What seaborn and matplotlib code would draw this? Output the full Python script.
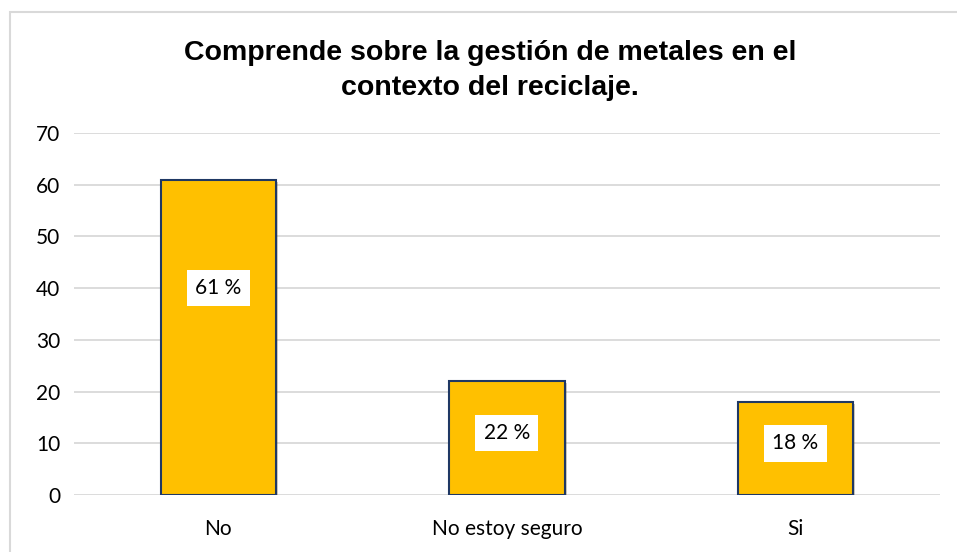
import pandas as pd
import seaborn as sns
import matplotlib.pyplot as plt
from matplotlib.patches import Rectangle
import matplotlib.patheffects as pe

# Data
categories = ['No', 'No estoy seguro', 'Si']
values = [61, 22, 18]
labels = ['61 %', '22 %', '18 %']
label_y = [40, 12, 10]   # where the labels sit on each bar

df = pd.DataFrame({'respuesta': categories, 'valor': values})

sns.set_theme(style='white')
plt.rcParams['font.family'] = ['Lato', 'DejaVu Sans']
plt.rcParams['text.color'] = 'black'

fig = plt.figure(figsize=(9.57, 5.52), dpi=100)
ax = fig.add_axes([0.0773, 0.1033, 0.9047, 0.6557])

# chart frame (only left and top edges visible in the reference)
fig.patches.append(Rectangle((10 / 957, -0.05), 1.1, (552 - 12) / 552 + 0.05,
                             transform=fig.transFigure, fill=False,
                             edgecolor='#d9d9d9', linewidth=1.5, zorder=0))

ax.set_axisbelow(True)
ax.yaxis.grid(True, color='#d9d9d9', linewidth=1.3)
sns.barplot(data=df, x='respuesta', y='valor', color='#FFC000',
            saturation=1, width=0.4, edgecolor='#1F3864', linewidth=1.5, ax=ax)

for bar in ax.patches:
    bar.set_path_effects([pe.SimplePatchShadow(offset=(1.5, -1.5), alpha=0.25),
                          pe.Normal()])

for i, (lab, y) in enumerate(zip(labels, label_y)):
    ax.text(i, y, lab, ha='center', va='center', fontsize=15, color='black',
            bbox=dict(boxstyle='square,pad=0.4', facecolor='white',
                      edgecolor='none'))

ax.set_ylim(0, 70)
ax.set_yticks(range(0, 71, 10))
ax.set_xlim(-0.5, 2.5)
ax.set_xlabel('')
ax.set_ylabel('')
ax.tick_params(axis='both', labelsize=15, length=0, colors='black')
ax.tick_params(axis='x', pad=17)
ax.tick_params(axis='y', pad=10)
for s in ax.spines.values():
    s.set_visible(False)

fig.text(0.512, 0.872, 'Comprende sobre la gestión de metales en el\ncontexto del reciclaje.',
         ha='center', va='center', fontsize=20.5, fontweight='bold',
         color='black', family=['Liberation Sans', 'DejaVu Sans'],
         linespacing=1.45)

fig.savefig('out.png', dpi=100, facecolor='white')
